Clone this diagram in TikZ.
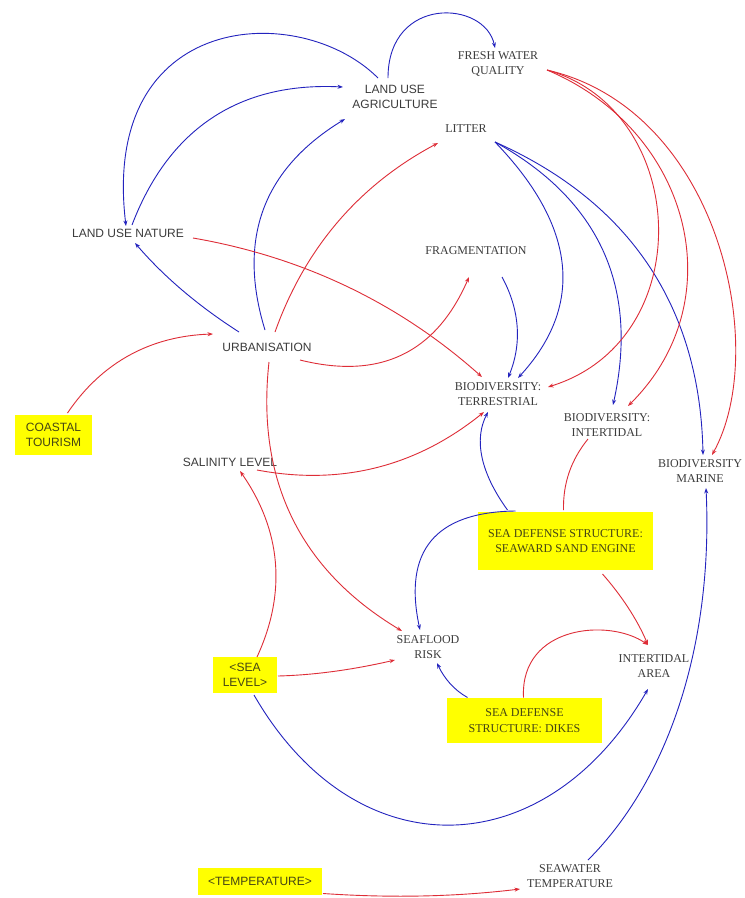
\documentclass[tikz,border=0pt]{standalone}
\usepackage{fontspec}
\setmainfont{Liberation Serif}
\newfontfamily\labelsans{Liberation Sans}
\usetikzlibrary{arrows.meta,calc}

\definecolor{linkblue}{RGB}{35,35,190}
\definecolor{linkred}{RGB}{222,45,55}
\definecolor{labelgray}{RGB}{60,60,60}
\definecolor{boxyellow}{RGB}{255,255,0}
\definecolor{boxtext}{RGB}{70,70,20}

\begin{document}
\begin{tikzpicture}[x=1pt,y=-1pt,
  var/.style={align=center, inner sep=0pt, text=labelgray,
    font=\fontsize{12}{15.5}\selectfont},
  svar/.style={align=center, inner sep=0pt, text=labelgray,
    font=\fontsize{12}{15.5}\selectfont\labelsans},
  exo/.style={align=center, inner sep=0pt, fill=boxyellow, text=boxtext},
  exoserif/.style={exo, font=\fontsize{12}{15.5}\selectfont},
  exosans/.style={exo, font=\fontsize{12}{15.5}\selectfont\labelsans},
  link/.style={line width=0.9pt, -{Stealth[length=5.5pt,width=4pt]}},
  bluelink/.style={link, draw=linkblue},
  redlink/.style={link, draw=linkred},
  redplain/.style={line width=0.9pt, draw=linkred}
]
\fill[white] (0,0) rectangle (745,898);
\useasboundingbox (0,0) rectangle (745,898);

% variables
\node[var]  (fwq)    at (498,64)  {FRESH WATER\\QUALITY};
\node[svar] (lua)    at (395,97)  {LAND USE\\AGRICULTURE};
\node[var]  (litter) at (466,129) {LITTER};
\node[svar] (lun)    at (128,233) {LAND USE NATURE};
\node[var]  (frag)   at (476,251) {FRAGMENTATION};
\node[svar] (urb)    at (267,347) {URBANISATION};
\node[var]  (bt)     at (498,394) {BIODIVERSITY:\\TERRESTRIAL};
\node[var]  (bi)     at (607,425) {BIODIVERSITY:\\INTERTIDAL};
\node[var]  (bm)     at (700,471) {BIODIVERSITY\\MARINE};
\node[svar] (sal)    at (230,462) {SALINITY LEVEL};
\node[var]  (sfr)    at (428,647) {SEAFLOOD\\RISK};
\node[var]  (ia)     at (654,666) {INTERTIDAL\\AREA};
\node[var]  (swt)    at (570,876) {SEAWATER\\TEMPERATURE};

% external drivers
\node[exosans, minimum width=77pt, minimum height=40pt]
  (coastal) at (53.5,435) {COASTAL\\TOURISM};
\node[exoserif, minimum width=175pt, minimum height=58pt]
  (sand) at (565.5,541) {SEA DEFENSE STRUCTURE:\\SEAWARD SAND ENGINE};
\node[exosans, minimum width=64pt, minimum height=36pt]
  (sealevel) at (245,675) {<SEA\\LEVEL>};
\node[exoserif, minimum width=155pt, minimum height=45pt]
  (dikes) at (524.5,720.5) {SEA DEFENSE\\STRUCTURE: DIKES};
\node[exosans, minimum width=124pt, minimum height=27pt]
  (temp) at (260,881.5) {<TEMPERATURE>};

% blue links
\draw[bluelink] ($(lua)+(-7,-19)$) .. controls (388,-5) and (485,0) .. ($(fwq)+(-3,-16)$);
\draw[bluelink] ($(lua)+(-17,-19)$) .. controls (300,0) and (100,10) .. ($(lun)+(-2,-7)$);
\draw[bluelink] ($(lun)+(4,-8)$) .. controls (169,128) and (240,82) .. ($(lua)+(-52,-10)$);
\draw[bluelink] ($(urb)+(-2,-17)$) .. controls (237,239) and (263,169) .. ($(lua)+(-50,22)$);
\draw[bluelink] ($(urb)+(-28,-15)$) .. controls (200,307) and (165,278) .. ($(lun)+(7,10)$);
\draw[bluelink] ($(frag)+(26,26)$) .. controls (520,310) and (522,344) .. ($(bt)+(10,-16)$);
\draw[bluelink] ($(litter)+(29,13)$) .. controls (577,227) and (584,306) .. ($(bt)+(20,-16)$);
\draw[bluelink] ($(litter)+(29,13)$) .. controls (600,200) and (639,288) .. ($(bi)+(6,-20)$);
\draw[bluelink] ($(litter)+(29,13)$) .. controls (630,202) and (700,307) .. ($(bm)+(3,-16)$);
\draw[bluelink] ($(sand)+(-58,-31)$) .. controls (480,472) and (474,439) .. ($(bt)+(-10,18)$);
\draw[bluelink] ($(sand)+(-50,-30)$) .. controls (435,512) and (403,551) .. ($(sfr)+(-8,-17)$);
\draw[bluelink] ($(dikes)+(-57,-23)$) .. controls (454,690) and (444,678) .. ($(sfr)+(9,16)$);
\draw[bluelink] ($(sealevel)+(9,20)$) .. controls (356,872) and (546,866) .. ($(ia)+(-6,23)$);
\draw[bluelink] ($(swt)+(18,-16)$) .. controls (672,776) and (713,638) .. ($(bm)+(6,17)$);

% red links
\draw[redlink] ($(coastal)+(14,-22)$) .. controls (102,362) and (151,336) .. ($(urb)+(-54,-13)$);
\draw[redlink] ($(urb)+(8,-15)$) .. controls (305,248) and (359,185) .. ($(litter)+(-28,14)$);
\draw[redlink] ($(lun)+(65,5)$) .. controls (303,257) and (399,303) .. ($(bt)+(-16,-17)$);
\draw[redlink] ($(urb)+(33,13)$) .. controls (380,380) and (436,353) .. ($(frag)+(-7,26)$);
\draw[redlink] ($(urb)+(2,15)$) .. controls (256,480) and (300,570) .. ($(sfr)+(-26,-16)$);
\draw[redlink] ($(sal)+(27,8)$) .. controls (342,486) and (417,466) .. ($(bt)+(-14,18)$);
\draw[redlink] ($(sealevel)+(12,-18)$) .. controls (287,592) and (281,530) .. ($(sal)+(10,9)$);
\draw[redlink] ($(sealevel)+(33,1)$) .. controls (317,675) and (356,669) .. ($(sfr)+(-33,13)$);
\draw[redlink] ($(sand)+(37,33)$) .. controls (621,595) and (637,619) .. ($(ia)+(-6,-21)$);
\draw[redlink] ($(dikes)+(-1,-23)$) .. controls (520,625) and (610,618) .. ($(ia)+(-6,-21)$);
\draw[redlink] ($(fwq)+(49,6)$) .. controls (690,110) and (700,340) .. ($(bt)+(50,-7)$);
\draw[redlink] ($(fwq)+(49,6)$) .. controls (690,130) and (735,300) .. ($(bi)+(21,-19)$);
\draw[redlink] ($(fwq)+(49,6)$) .. controls (720,110) and (770,350) .. ($(bm)+(12,-16)$);
\draw[redplain] ($(sand)+(-2,-31)$) .. controls (563,483) and (571,460) .. ($(bi)+(-19,14)$);
\draw[redlink] ($(temp)+(63,12)$) .. controls (389,898) and (454,897) .. ($(swt)+(-50,13)$);
\end{tikzpicture}
\end{document}
